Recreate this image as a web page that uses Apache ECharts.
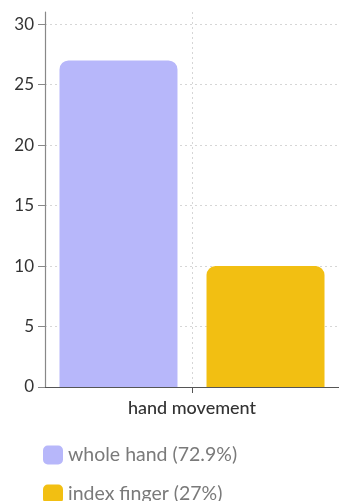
<!DOCTYPE html>
<html>
<head>
<meta charset="utf-8">
<script src="https://cdn.jsdelivr.net/npm/echarts@6/dist/echarts.min.js"></script>
<style>
  html, body { margin: 0; padding: 0; background: #fff; }
  #chart { width: 339px; height: 501px; }
</style>
</head>
<body>
<div id="chart"></div>
<script>
// Hand movement counts by input style
const categories = ['hand movement'];
const seriesNames = ['whole hand', 'index finger'];
const wholeHand = [27];
const indexFinger = [10];
const yTicks = [0, 5, 10, 15, 20, 25, 30];
const colors = ['#b7b7fa', '#f2bf12'];

const total = wholeHand[0] + indexFinger[0];
const share = v => String(Math.floor(v / total * 1000) / 10);
const legendText = {
  'whole hand': 'whole hand (' + share(wholeHand[0]) + '%)',
  'index finger': 'index finger (' + share(indexFinger[0]) + '%)'
};

const chart = echarts.init(document.getElementById('chart'), null, { renderer: 'canvas' });
const font = 'Lato, "Noto Sans", sans-serif';

chart.setOption({
  animation: false,
  textStyle: { fontFamily: font },
  grid: { left: 45, right: -2, top: 12, bottom: 114, containLabel: false },
  legend: {
    orient: 'vertical',
    left: 43,
    top: 445,
    height: 120,
    padding: 0,
    itemWidth: 20,
    itemHeight: 19,
    itemGap: 19,
    itemTextGap: 8,
    icon: 'roundRect',
    formatter: name => legendText[name],
    textStyle: { fontFamily: font, fontSize: 19.5, color: '#7a7a7a' }
  },
  xAxis: {
    type: 'category',
    data: categories,
    axisLine: { lineStyle: { color: '#555', width: 1 } },
    axisTick: { show: true, alignWithLabel: true, length: 6, lineStyle: { color: '#555' } },
    axisLabel: { fontFamily: font, fontSize: 18, color: '#333', margin: 12, fontWeight: 500 },
    splitLine: { show: true, alignWithLabel: true, lineStyle: { color: '#d6d6d6', type: [2, 3] } }
  },
  yAxis: {
    type: 'value',
    min: 0,
    max: 31,
    interval: 5,
    axisLine: { show: true, lineStyle: { color: '#888', width: 1.2 } },
    axisTick: { show: true, length: 7, lineStyle: { color: '#888' }, customValues: yTicks },
    axisLabel: { fontFamily: font, fontSize: 17, color: '#333', margin: 11, customValues: yTicks },
    splitLine: { show: true, lineStyle: { color: '#d6d6d6', type: [2, 3] } }
  },
  series: [
    {
      name: seriesNames[0],
      type: 'bar',
      data: wholeHand,
      barWidth: 118,
      barGap: '24.6%',
      itemStyle: { color: colors[0], borderRadius: [9, 9, 0, 0] }
    },
    {
      name: seriesNames[1],
      type: 'bar',
      data: indexFinger,
      barWidth: 118,
      itemStyle: { color: colors[1], borderRadius: [9, 9, 0, 0] }
    }
  ]
});
</script>
</body>
</html>
